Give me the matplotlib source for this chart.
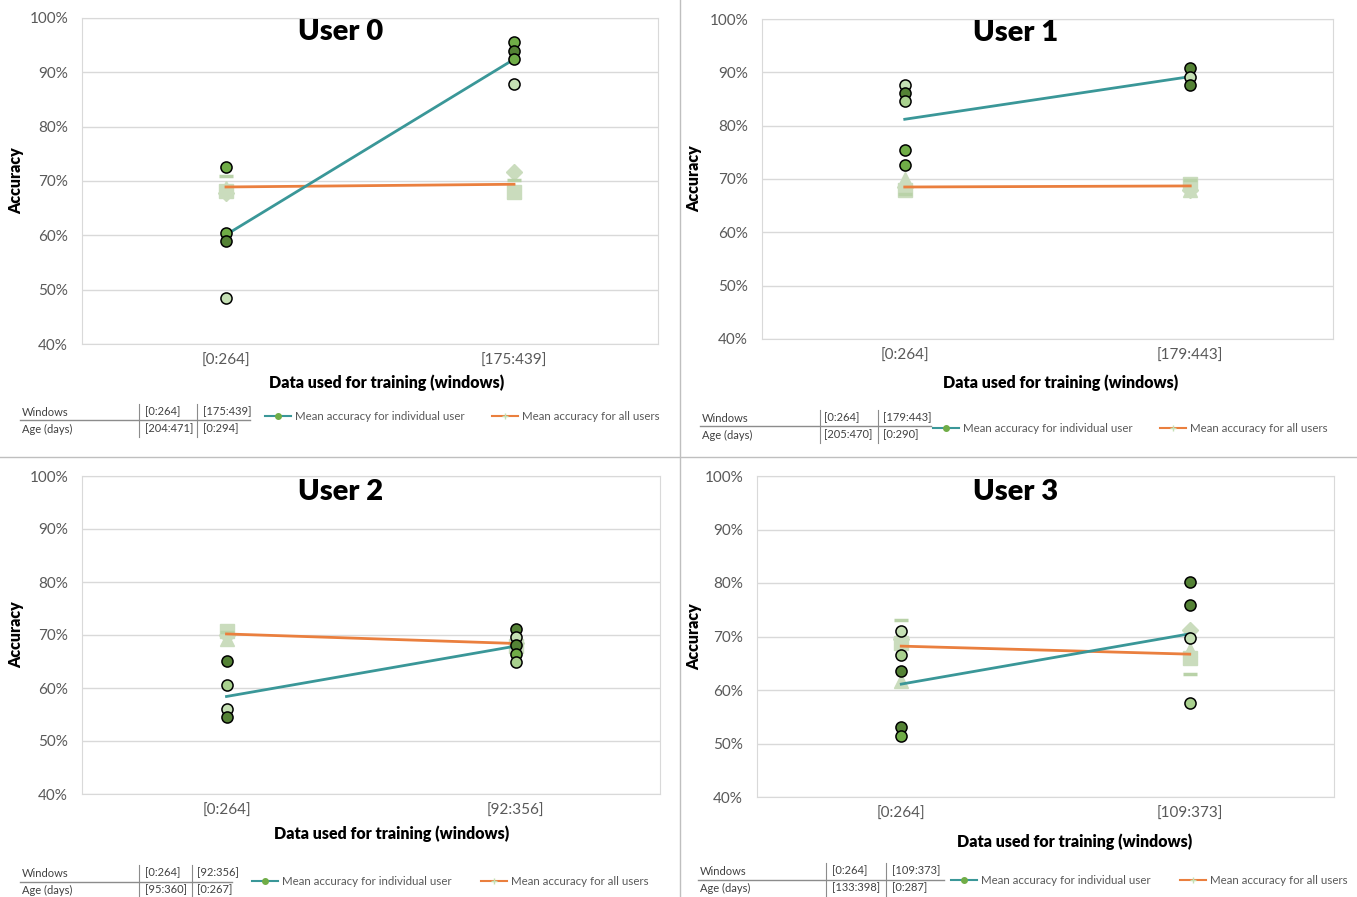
import matplotlib.pyplot as plt
from matplotlib.lines import Line2D

plt.rcParams['font.family'] = ['Lato', 'DejaVu Sans']

W, H = 1357, 897

users = ['User 0', 'User 1', 'User 2', 'User 3']
windows = [['[0:264]', '[175:439]'], ['[0:264]', '[179:443]'],
           ['[0:264]', '[92:356]'], ['[0:264]', '[109:373]']]
ages = [['[204:471]', '[0:294]'], ['[205:470]', '[0:290]'],
        ['[95:360]', '[0:267]'], ['[133:398]', '[0:287]']]

# accuracy of each run of the individual-user model (%), one list per window
runs_user = [
    [[72.6, 60.5, 59.0, 48.4], [95.5, 93.9, 92.4, 87.8]],
    [[87.6, 86.2, 84.7, 75.5, 72.6], [90.8, 89.2, 87.6]],
    [[65.1, 60.6, 56.0, 54.5], [71.2, 69.6, 68.1, 66.5, 65.0]],
    [[71.0, 66.6, 63.6, 53.0, 51.4], [80.1, 75.8, 69.7, 57.5]],
]
# shade of each run marker (d = dark, m = mid, l = light, p = pale)
runs_shade = [
    [['m', 'm', 'd', 'p'], ['m', 'd', 'm', 'p']],
    [['p', 'd', 'l', 'm', 'm'], ['d', 'p', 'd']],
    [['d', 'l', 'p', 'd'], ['d', 'p', 'd', 'm', 'l']],
    [['p', 'l', 'd', 'd', 'm'], ['d', 'd', 'p', 'l']],
]
mean_user = [[60.1, 92.4], [81.2, 89.2], [58.4, 67.9], [61.1, 70.5]]
mean_all = [[68.9, 69.4], [68.5, 68.7], [70.2, 68.4], [68.2, 66.7]]

# runs of the model trained on all users
all_square = [[68.1, 67.9], [68.0, 69.0], [70.7, 68.0], [68.7, 65.9]]
all_triangle = [[68.7, 68.2], [70.0, 68.0], [69.3, 68.8], [61.6, 67.5]]
all_diamond = [[67.8, 71.6], [68.5, 67.9], [70.0, 68.5], [69.5, 71.2]]
all_dash = [[71.0, 70.2], [67.2, 69.8], [70.5, 68.3], [73.1, 63.0]]

yticks = [40, 50, 60, 70, 80, 90, 100]

shades = {'d': '#548235', 'm': '#70ad47', 'l': '#a9d18e', 'p': '#c5e0b4'}
TEAL = '#3a9798'
ORANGE = '#ea7f3e'
FADED = '#cadcbd'
GRID = '#d9d9d9'
TXT = '#595959'

# pixel layout of each panel: plot box (l, t, r, b), title, x label centre
boxes = [(82, 18, 658, 344), (762, 19, 1333, 339), (82, 476, 660, 794), (757, 476, 1334, 797)]
titles_at = [(341, 32), (1016, 33), (341, 492), (1016, 492)]
xlab_at = [(387, 383), (1061, 383), (392, 834), (1075, 842)]
ylab_x = [16, 694, 16, 694]
# table: label x, col x, col x, vline x, vline x, row y, row y, hline end, legend y, legend x, legend x
tables = [
    (22, 145, 203, 139, 197, 412, 429, 250, 416, 265, 492),
    (702, 824, 883, 820, 878, 418, 435, 931, 428, 933, 1160),
    (22, 145, 197, 139, 192, 873, 890, 232, 881, 252, 481),
    (700, 832, 892, 826, 886, 871, 888, 944, 880, 951, 1180),
]

fig = plt.figure(figsize=(W / 100, H / 100), dpi=100)


def fx(x):
    return x / W


def fy(y):
    return 1 - y / H


def hline(x0, x1, y, **kw):
    fig.add_artist(Line2D([fx(x0), fx(x1)], [fy(y), fy(y)], transform=fig.transFigure, **kw))


def vline(x, y0, y1, **kw):
    fig.add_artist(Line2D([fx(x), fx(x)], [fy(y0), fy(y1)], transform=fig.transFigure, **kw))


for i in range(4):
    l, t, r, b = boxes[i]
    ax = fig.add_axes([fx(l), fy(b), fx(r) - fx(l), fy(t) - fy(b)])
    xs = [0, 1]

    # all-users runs, faded behind the lines
    ax.plot(xs, all_square[i], 's', color=FADED, ms=10, zorder=2)
    ax.plot(xs, all_triangle[i], '^', color=FADED, ms=10, zorder=2)
    ax.plot(xs, all_diamond[i], 'D', color=FADED, ms=8, zorder=2)
    ax.plot(xs, all_dash[i], '_', color='#b9d2a8', ms=10, mew=2.5, zorder=2)

    ax.plot(xs, mean_all[i], '-', color=ORANGE, lw=2, zorder=3)
    ax.plot(xs, mean_user[i], '-', color=TEAL, lw=2, zorder=3)

    for k in xs:
        for v, s in zip(runs_user[i][k], runs_shade[i][k]):
            ax.plot(k, v, 'o', ms=8, mfc=shades[s], mec='black', mew=1.1, zorder=4)

    ax.set_xlim(-0.5, 1.5)
    ax.set_ylim(40, 100)
    ax.set_yticks(yticks)
    ax.set_yticklabels([f'{v}%' for v in yticks])
    ax.set_xticks(xs)
    ax.set_xticklabels(windows[i])
    ax.tick_params(length=0, labelsize=11, labelcolor=TXT)
    ax.tick_params(axis='y', pad=10)
    ax.tick_params(axis='x', pad=7)
    ax.grid(axis='y', color=GRID, lw=1)
    ax.set_axisbelow(True)
    for sp in ax.spines.values():
        sp.set_color(GRID)

    fig.text(fx(titles_at[i][0]), fy(titles_at[i][1]), users[i], fontsize=21,
             fontweight='heavy', ha='center', va='center')
    fig.text(fx(xlab_at[i][0]), fy(xlab_at[i][1]), 'Data used for training (windows)',
             fontsize=11.5, fontweight='heavy', ha='center', va='center')
    fig.text(fx(ylab_x[i]), fy((t + b) / 2), 'Accuracy', fontsize=11.5, fontweight='heavy',
             rotation=90, ha='center', va='center')

    # windows / age table under the chart
    lx, c1, c2, v1, v2, r1, r2, hend, ly, lg1, lg2 = tables[i]
    for x, txt1, txt2 in [(lx, 'Windows', 'Age (days)'), (c1, windows[i][0], ages[i][0]),
                          (c2, windows[i][1], ages[i][1])]:
        fig.text(fx(x), fy(r1), txt1, fontsize=8, color='#404040', va='center')
        fig.text(fx(x), fy(r2), txt2, fontsize=8, color='#404040', va='center')
    hline(lx - 2, hend, (r1 + r2) / 2, color='#8c8c8c', lw=1)
    vline(v1, r1 - 8, r2 + 8, color='#8c8c8c', lw=0.8)
    vline(v2, r1 - 8, r2 + 8, color='#8c8c8c', lw=0.8)

    # legend
    hline(lg1, lg1 + 26, ly, color=TEAL, lw=1.5)
    fig.add_artist(Line2D([fx(lg1 + 13)], [fy(ly)], marker='o', ms=4, color='#70ad47',
                          transform=fig.transFigure))
    fig.text(fx(lg1 + 30), fy(ly), 'Mean accuracy for individual user', fontsize=8.3,
             color=TXT, va='center')
    hline(lg2, lg2 + 26, ly, color=ORANGE, lw=1.5)
    fig.add_artist(Line2D([fx(lg2 + 13)], [fy(ly)], marker='+', ms=5, color='#c5e0b4',
                          transform=fig.transFigure))
    fig.text(fx(lg2 + 30), fy(ly), 'Mean accuracy for all users', fontsize=8.3,
             color=TXT, va='center')

# separators between the four charts
vline(680, 0, H, color='#bfbfbf', lw=1)
hline(0, W, 457, color='#bfbfbf', lw=1)

fig.savefig('out.png', dpi=100)
